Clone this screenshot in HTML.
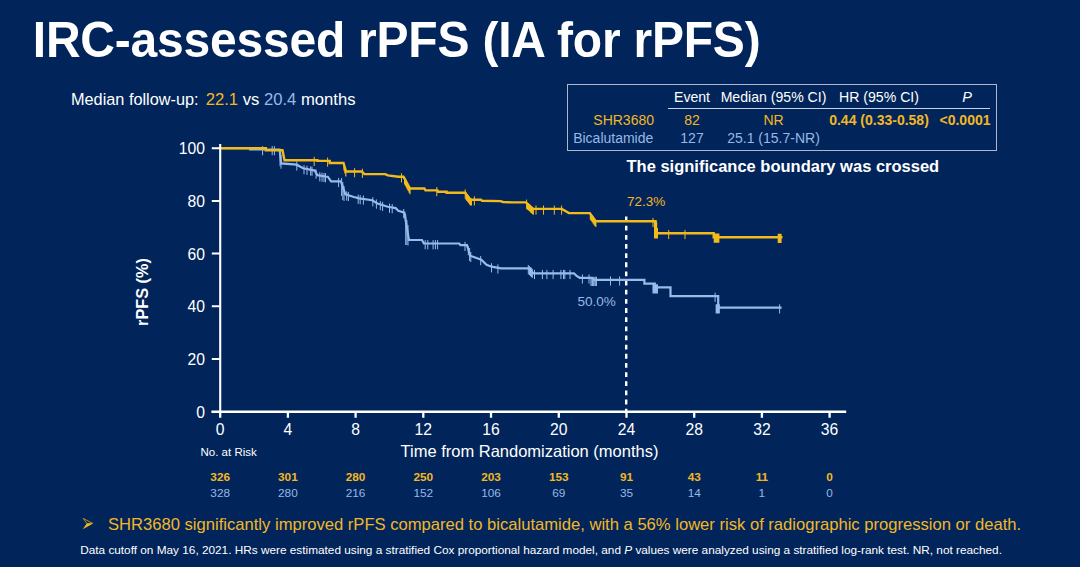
<!DOCTYPE html>
<html><head><meta charset="utf-8">
<style>
html,body{margin:0;padding:0;}
body{width:1080px;height:567px;background:#01255a;overflow:hidden;position:relative;font-family:"Liberation Sans",sans-serif;color:#fff;}
.t{position:absolute;white-space:nowrap;line-height:1;}
.y{color:#f3b724;}
.b{color:#98b8e6;}
#title{left:32.8px;top:16.8px;font-size:48px;font-weight:bold;letter-spacing:-0.22px;transform:scaleY(1.025);transform-origin:0 40.3px;}
#mf{left:71px;top:90.5px;font-size:16.65px;}
#box{position:absolute;left:567px;top:84px;width:430px;height:67px;border:1px solid #aeb7c9;box-sizing:border-box;}
.th{font-size:14.1px;top:90px;}
.r1{font-size:14px;top:112.5px;}
.r2{font-size:14px;top:131.3px;}
.c{transform:translateX(-50%);}
.rt{transform:translateX(-100%);}
#sig{left:626.5px;top:158.3px;font-size:16.5px;font-weight:bold;}
.yl{font-size:15.7px;transform:translateX(-100%);left:205px;margin-top:0.8px;}
.xl{font-size:15.7px;transform:translateX(-50%);top:422.2px;}
.n{font-size:11.8px;transform:translateX(-50%);}
.n.y{font-weight:bold;}
#ylab{left:142px;top:291.5px;font-size:16.3px;font-weight:bold;transform:translate(-50%,-50%) rotate(-90deg);}
#xlab{left:400.5px;top:443px;font-size:16.5px;}
#nar{left:200.5px;top:447px;font-size:11.5px;}
#p1{left:627px;top:195px;font-size:13.5px;}
#p2{left:577.5px;top:295px;font-size:13.5px;}
#bul{left:108px;top:516.5px;font-size:16.6px;}
#arr{left:82px;top:516px;font-size:14px;}
#fn{left:80.2px;top:544.7px;font-size:11.8px;}
</style></head><body>
<div class="t" id="title">IRC-assessed rPFS (IA for rPFS)</div>
<div class="t" id="mf"><span style="font-size:16.3px">Median follow-up:</span><span style="margin-left:7.1px" class="y">22.1</span> vs <span class="b">20.4</span> months</div>
<div id="box"></div>
<div class="t th c" style="left:692px">Event</div>
<div class="t th c" style="left:773.5px">Median (95% CI)</div>
<div class="t th c" style="left:879px">HR (95% CI)</div>
<div class="t th c" style="left:967px;font-style:italic;font-size:14.5px">P</div>
<div style="position:absolute;left:668px;top:108.4px;width:322px;height:1.1px;background:#ccd3df"></div>
<div class="t r1 rt y" style="left:654px">SHR3680</div>
<div class="t r1 c y" style="left:692px">82</div>
<div class="t r1 c y" style="left:773.5px">NR</div>
<div class="t r1 c y" style="left:879px;font-weight:bold">0.44 (0.33-0.58)</div>
<div class="t r1 c y" style="left:965px;font-weight:bold">&lt;0.0001</div>
<div class="t r2 rt b" style="left:653.3px">Bicalutamide</div>
<div class="t r2 c b" style="left:692px">127</div>
<div class="t r2 c b" style="left:773.5px">25.1 (15.7-NR)</div>
<div class="t" id="sig">The significance boundary was crossed</div>

<svg id="chart" width="1080" height="567" style="position:absolute;left:0;top:0">
<path d="M626.2 216.6V411" stroke="#fff" stroke-width="2.4" stroke-dasharray="4.8 4.35" fill="none"/>
<path d="M220.2 148.2 L250.2 148.2 L250.2 149.5 L279.6 149.5 L281.2 163.4 L296.6 164.7 L303.1 168.3 L314.8 170.6 L317.4 175.2 L325.3 176.5 L327.8 176.7 L331.1 181.3 L340.9 181.3 L345.4 194.4 L353.9 197.0 L359.1 198.3 L372.2 200.2 L377.4 203.5 L387.8 206.8 L395.7 208.1 L398.3 210.7 L404.4 212.6 L408.9 240.0 L422.0 240.0 L423.9 243.5 L459.2 243.5 L460.5 245.2 L467.0 245.2 L470.2 255.7 L481.3 259.6 L486.5 264.8 L491.7 266.7 L500.9 268.4 L528.3 268.4 L533.5 273.3 L573.9 273.3 L576.6 275.9 L579.8 277.8 L590.9 277.8 L594.8 279.8 L644.4 279.8 L644.4 283.7 L654.8 283.7 L654.8 287.4 L670.5 287.4 L670.5 296.1 L718.2 296.1 L718.2 307.7 L781.6 307.7" stroke="#98bbea" stroke-width="2.2" fill="none" stroke-linejoin="miter"/>
<path d="M262.6 146.1V155.3M272.2 146.1V155.3M274.4 146.1V155.3M296.8 161.4V170.6M304.0 165.1V174.3M307.0 165.7V174.9M310.6 166.4V175.6M312.0 166.6V175.8M316.1 169.5V178.7M319.8 172.2V181.4M322.0 172.6V181.8M324.0 172.9V182.1M325.5 173.1V182.3M338.6 177.9V187.1M346.7 191.4V200.6M348.4 191.9V201.1M358.2 194.7V203.9M360.2 195.1V204.3M363.4 195.5V204.7M372.8 197.2V206.4M376.4 199.5V208.7M380.3 201.0V210.2M382.6 201.8V211.0M389.5 203.7V212.9M392.2 204.1V213.3M403.7 209.0V218.2M425.2 240.1V249.3M427.8 240.1V249.3M433.1 240.1V249.3M435.4 240.1V249.3M437.6 240.1V249.3M465.0 241.8V251.0M468.3 246.1V255.3M480.7 256.0V265.2M491.5 263.2V272.4M497.9 264.4V273.6M528.3 265.0V274.2M534.5 269.9V279.1M542.4 269.9V279.1M546.9 269.9V279.1M553.1 269.9V279.1M560.9 269.9V279.1M563.5 269.9V279.1M564.8 269.9V279.1M570.0 269.9V279.1M582.4 274.4V283.6M589.0 274.4V283.6M610.5 276.4V285.6M619.6 276.4V285.6M715.1 292.7V301.9M779.6 304.3V313.5M281 155V168.7M280 152V166M341.6 178V196M342.8 182V200M344 186V201M405.7 214V245M406.9 220V245M408 225V245.5M469.6 248V261M470.8 252V262" stroke="#98bbea" stroke-width="1" fill="none"/>
<path d="M529.3 265.9V275.1M530.3 266.9V276.1M531.3 267.8V277.0M532.3 268.8V278.0M591.0 276.8V286.0M592.4 276.8V286.0M593.7 276.8V286.0M595.1 276.8V286.0M596.4 276.8V286.0M653.0 284.2V293.4M654.1 284.2V293.4M655.2 284.2V293.4M656.3 284.2V293.4M657.4 284.2V293.4M716.2 304.3V313.5M717.2 304.3V313.5M718.3 304.3V313.5M719.3 304.3V313.5" stroke="#98bbea" stroke-width="1.1" fill="none"/>
<path d="M220.2 148.2 L265.9 148.2 L265.9 150.2 L282.5 150.2 L284.5 160.2 L317.4 160.2 L317.4 160.9 L329.7 160.9 L329.7 163.0 L343.5 163.0 L346.0 171.5 L361.8 171.5 L364.4 174.1 L385.2 174.1 L387.8 175.4 L398.3 176.7 L403.5 176.7 L410.0 188.5 L424.4 188.5 L425.5 190.4 L437.4 190.4 L438.0 191.8 L446.6 191.8 L446.6 192.8 L465.2 192.8 L470.4 199.7 L480.9 199.7 L482.0 200.7 L500.5 201.1 L503.0 202.0 L512.2 202.4 L525.9 202.4 L533.1 208.9 L561.8 208.9 L568.9 213.1 L589.8 213.1 L595.7 221.3 L655.6 221.3 L655.6 233.3 L713.7 233.3 L713.7 237.2 L782.5 237.2" stroke="#f3ba1c" stroke-width="2.4" fill="none" stroke-linejoin="miter"/>
<path d="M314.2 156.8V166.0M327.6 157.5V166.7M354.6 168.1V177.3M362.4 168.7V177.9M401.5 173.3V182.5M436.8 187.0V196.2M465.2 189.4V198.6M474.4 196.3V205.5M526.6 199.6V208.8M536.0 205.5V214.7M543.5 205.5V214.7M554.3 205.5V214.7M561.6 205.5V214.7M653.0 217.9V227.1M668.7 229.9V239.1M685.0 229.9V239.1" stroke="#f3ba1c" stroke-width="1" fill="none"/>
<path d="M344.0 163.5V170.5M344.9 166.6V173.6M345.8 169.6V176.6M404.6 177.5V184.5M405.5 179.1V186.1M406.4 180.8V187.8M407.3 182.4V189.4M408.2 184.0V191.0M409.1 185.7V192.7M410.0 187.3V194.3M466.0 192.7V199.7M466.9 193.9V200.9M467.8 195.0V202.0M468.7 196.2V203.2M469.6 197.4V204.4M470.5 198.5V205.5M471.4 198.5V205.5M527.0 202.2V209.2M527.9 203.0V210.0M528.8 203.8V210.8M529.7 204.6V211.6M530.6 205.4V212.4M531.5 206.3V213.3M532.4 207.1V214.1M533.3 207.7V214.7M590.4 212.7V219.7M591.3 214.0V221.0M592.2 215.2V222.2M593.1 216.5V223.5M594.0 217.7V224.7M594.9 219.0V226.0M595.8 220.1V227.1M714.3 233.6V242.8M715.2 233.6V242.8M716.1 233.6V242.8M717.0 233.6V242.8M717.9 233.6V242.8M718.8 233.6V242.8M778.3 233.8V243.0M779.2 233.8V243.0M780.1 233.8V243.0M781.0 233.8V243.0M654.6 220.5V238.5M655.6 220.5V238.5M656.6 222V238.5M657.4 228V238.5" stroke="#f3ba1c" stroke-width="1.2" fill="none"/>
<g stroke="#fff" fill="none"><path d="M220.2 144V413" stroke-width="2.1"/><path d="M211.4 411.7H846.2" stroke-width="2.5"/></g>
<path d="M211.8 359.0H220M211.8 306.3H220M211.8 253.6H220M211.8 200.9H220M211.8 148.2H220" stroke="#fff" stroke-width="2.0" fill="none"/>
<path d="M220.2 411.7V417.8M287.9 411.7V417.8M355.6 411.7V417.8M423.3 411.7V417.8M491.0 411.7V417.8M558.8 411.7V417.8M626.5 411.7V417.8M694.2 411.7V417.8M761.9 411.7V417.8M829.6 411.7V417.8" stroke="#fff" stroke-width="2.3" fill="none"/>
<path d="M86.7 523.6L93.1 523.4L82.8 529.3Z" fill="#f5b81c"/><path d="M83.2 518.4L92.6 523.3L86.9 523.5Z" fill="none" stroke="#f5b81c" stroke-width="0.7"/>
</svg>

<div class="t yl" style="top:140.5px">100</div>
<div class="t yl" style="top:193.2px">80</div>
<div class="t yl" style="top:245.9px">60</div>
<div class="t yl" style="top:298.6px">40</div>
<div class="t yl" style="top:351.3px">20</div>
<div class="t yl" style="top:404px">0</div>
<div class="t xl" style="left:220.2px">0</div>
<div class="t n y" style="left:220.2px;top:472px">326</div>
<div class="t n b" style="left:220.2px;top:488px">328</div>
<div class="t xl" style="left:287.9px">4</div>
<div class="t n y" style="left:287.9px;top:472px">301</div>
<div class="t n b" style="left:287.9px;top:488px">280</div>
<div class="t xl" style="left:355.6px">8</div>
<div class="t n y" style="left:355.6px;top:472px">280</div>
<div class="t n b" style="left:355.6px;top:488px">216</div>
<div class="t xl" style="left:423.3px">12</div>
<div class="t n y" style="left:423.3px;top:472px">250</div>
<div class="t n b" style="left:423.3px;top:488px">152</div>
<div class="t xl" style="left:491.0px">16</div>
<div class="t n y" style="left:491.0px;top:472px">203</div>
<div class="t n b" style="left:491.0px;top:488px">106</div>
<div class="t xl" style="left:558.8px">20</div>
<div class="t n y" style="left:558.8px;top:472px">153</div>
<div class="t n b" style="left:558.8px;top:488px">69</div>
<div class="t xl" style="left:626.5px">24</div>
<div class="t n y" style="left:626.5px;top:472px">91</div>
<div class="t n b" style="left:626.5px;top:488px">35</div>
<div class="t xl" style="left:694.2px">28</div>
<div class="t n y" style="left:694.2px;top:472px">43</div>
<div class="t n b" style="left:694.2px;top:488px">14</div>
<div class="t xl" style="left:761.9px">32</div>
<div class="t n y" style="left:761.9px;top:472px">11</div>
<div class="t n b" style="left:761.9px;top:488px">1</div>
<div class="t xl" style="left:829.6px">36</div>
<div class="t n y" style="left:829.6px;top:472px">0</div>
<div class="t n b" style="left:829.6px;top:488px">0</div>

<div class="t" id="ylab">rPFS (%)</div>
<div class="t" id="xlab">Time from Randomization (months)</div>
<div class="t" id="nar">No. at Risk</div>
<div class="t y" id="p1">72.3%</div>
<div class="t b" id="p2">50.0%</div>

<div class="t y" id="bul">SHR3680 significantly improved rPFS compared to bicalutamide, with a 56% lower risk of radiographic progression or death.</div>
<div class="t" id="fn">Data cutoff on May 16, 2021. HRs were estimated using a stratified Cox proportional hazard model, and <i>P</i> values were analyzed using a stratified log-rank test. NR, not reached.</div>
</body></html>
